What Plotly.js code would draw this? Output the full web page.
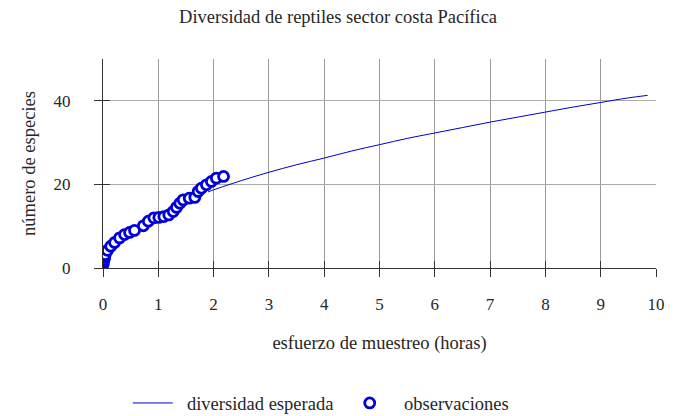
<!DOCTYPE html>
<html>
<head>
<meta charset="utf-8">
<script src="https://cdn.plot.ly/plotly-3.0.1.min.js"></script>
<style>html,body{margin:0;padding:0;background:#fff;}#chart{width:690px;height:416px;}</style>
</head>
<body>
<div id="chart"></div>
<script>
// expected diversity curve
var esfuerzoEsperado = [1.9, 2.0, 2.5, 3.0, 3.5, 4.0, 4.5, 5.0, 5.5, 6.0, 6.5, 7.0, 7.5, 8.0, 8.5, 9.0, 9.5, 9.85];
var especiesEsperadas = [18.2, 18.7, 20.9, 22.9, 24.7, 26.3, 28.0, 29.5, 31.0, 32.3, 33.6, 34.9, 36.1, 37.3, 38.5, 39.6, 40.7, 41.3];

var esfuerzoObs = [0.00, 0.01, 0.02, 0.03, 0.04, 0.08, 0.14, 0.21, 0.30, 0.39, 0.48, 0.57, 0.73, 0.82, 0.92, 1.01, 1.10, 1.19, 1.27, 1.33, 1.39, 1.45, 1.56, 1.66, 1.72, 1.78, 1.87, 1.96, 2.05, 2.18];
var especiesObs = [0.8, 1.4, 2.0, 2.6, 3.2, 4.2, 5.2, 6.1, 7.2, 8.0, 8.5, 9.0, 10.1, 11.2, 12.0, 12.1, 12.3, 12.7, 13.5, 14.5, 15.5, 16.3, 16.7, 16.9, 18.3, 19.1, 19.9, 20.7, 21.5, 21.9];

var xTicks = [0, 1, 2, 3, 4, 5, 6, 7, 8, 9, 10];
var yTicks = [0, 20, 40];

var FONT = 'Liberation Serif, Times New Roman, serif';
var TXT = '#262626';
var NB = '\u00a0\u00a0';

var traces = [
  {
    x: esfuerzoEsperado, y: especiesEsperadas,
    type: 'scatter', mode: 'lines', name: NB + 'diversidad esperada',
    line: {color: '#0000d0', width: 1, shape: 'spline'}
  },
  {
    x: esfuerzoObs, y: especiesObs,
    type: 'scatter', mode: 'markers', name: NB + 'observaciones',
    marker: {symbol: 'circle', size: 10, color: '#ffffff', line: {width: 2.8, color: '#0000d8'}}
  },
  {x: [], y: [], xaxis: 'x2', yaxis: 'y2', showlegend: false, hoverinfo: 'skip', type: 'scatter'}
];

var layout = {
  width: 690, height: 416,
  margin: {l: 103.3, r: 34, t: 59.3, b: 147.7, autoexpand: false},
  paper_bgcolor: '#fff', plot_bgcolor: '#fff',
  font: {family: FONT, size: 18.5, color: TXT},
  title: {text: 'Diversidad de reptiles sector costa Pacífica', font: {family: FONT, size: 18.5, color: TXT},
          x: 0.49, xanchor: 'center', y: 1 - 17/416, yanchor: 'middle'},
  showlegend: true,
  legend: {orientation: 'h', x: 0.0447, xanchor: 'left', y: -0.648, yanchor: 'middle',
           itemwidth: 40, entrywidth: 162, entrywidthmode: 'pixels',
           font: {family: FONT, size: 18.5, color: TXT}, bgcolor: 'rgba(0,0,0,0)'},
  xaxis: {
    range: [0, 10], tickvals: xTicks, ticktext: xTicks.map(String), automargin: false,
    showgrid: true, gridcolor: '#9a9a9a', gridwidth: 1, zeroline: false,
    showline: true, linecolor: '#333', linewidth: 1,
    ticks: 'outside', ticklen: 8, tickcolor: '#333', tickwidth: 1,
    ticklabelstandoff: 13,
    tickfont: {family: FONT, size: 17, color: TXT},
    title: {text: 'esfuerzo de muestreo (horas)', font: {family: FONT, size: 18.5, color: TXT}, standoff: 22}
  },
  yaxis: {
    range: [0, 50], tickvals: yTicks, ticktext: yTicks.map(String), automargin: false,
    showgrid: true, gridcolor: '#aaaaaa', gridwidth: 1, zeroline: false,
    showline: true, linecolor: '#333', linewidth: 1,
    ticks: 'outside', ticklen: 8, tickcolor: '#333', tickwidth: 1,
    ticklabelstandoff: 20,
    tickfont: {family: FONT, size: 17, color: TXT},
    title: {text: 'número de especies', font: {family: FONT, size: 18.5, color: TXT}, standoff: 13}
  },
  xaxis2: {range: [0, 10], tickvals: xTicks, showticklabels: false, overlaying: 'x', anchor: 'y2',
           showgrid: false, zeroline: false, showline: false, automargin: false,
           ticks: 'inside', ticklen: 7, tickcolor: '#333', tickwidth: 1},
  yaxis2: {range: [0, 50], tickvals: yTicks, showticklabels: false, overlaying: 'y', anchor: 'x2',
           showgrid: false, zeroline: false, showline: false, automargin: false,
           ticks: 'inside', ticklen: 7, tickcolor: '#333', tickwidth: 1}
};

Plotly.newPlot('chart', traces, layout, {displayModeBar: false, staticPlot: true});
</script>
</body>
</html>
